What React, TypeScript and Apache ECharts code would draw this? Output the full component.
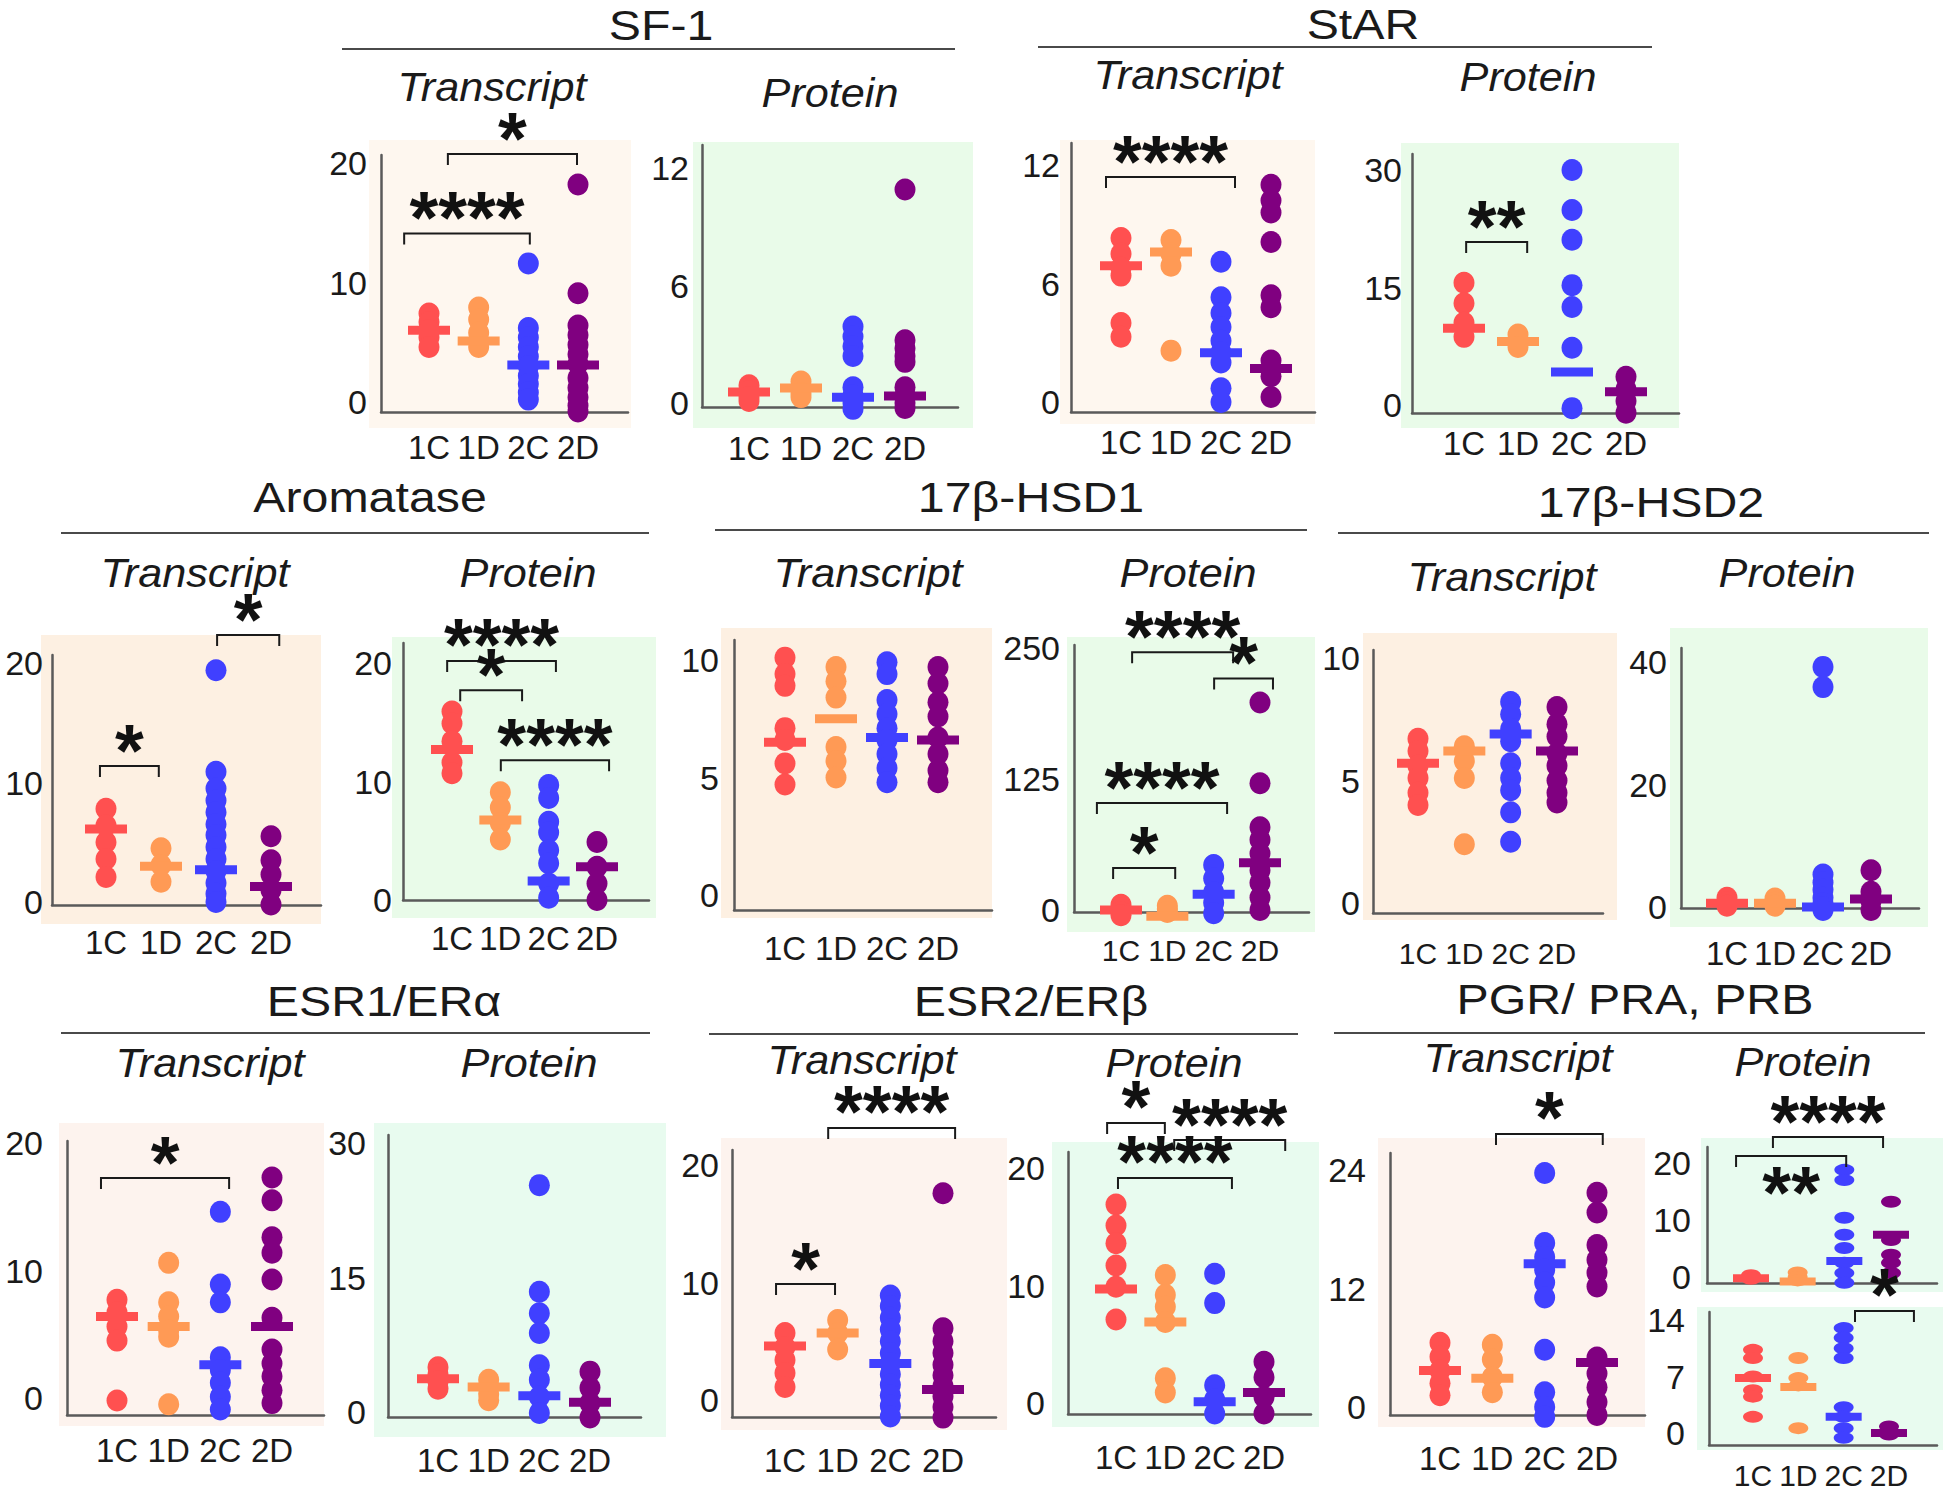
import React, { useEffect, useRef } from 'react';
import * as echarts from 'echarts';

// ---------------- DATA ----------------
const GROUPS = ['1C', '1D', '2C', '2D'];

// SF-1
const sf1TranscriptTicks = [0, 10, 20];
const sf1TranscriptValues = [
  [7.4, 6.7, 6.0, 5.4, 4.6],
  [7.9, 6.9, 5.8, 4.6],
  [11.6, 6.2, 5.4, 4.6, 3.8, 3.0, 2.2, 1.5, 0.8, 0.2],
  [18.2, 9.1, 6.4, 5.6, 4.8, 4.0, 3.2, 2.0, 1.2, 0.4, -0.3, -0.8],
];
const sf1TranscriptMedians = [6.0, 5.1, 3.1, 3.1];
const sf1TranscriptBrackets = [
  [0.5, 3.03, 14.1, '****'],
  [1.38, 3.98, 20.75, '*'],
];

const sf1ProteinTicks = [0, 6, 12];
const sf1ProteinValues = [
  [0.9, 0.6, 0.3, 0.1],
  [1.1, 0.8, 0.5, 0.3],
  [3.9, 3.4, 2.9, 2.4, 0.8, 0.4, 0.0, -0.3],
  [10.9, 3.2, 2.8, 2.4, 2.1, 0.8, 0.4, 0.0, -0.25],
];
const sf1ProteinMedians = [0.56, 0.76, 0.3, 0.36];
const sf1ProteinBrackets: any[] = [];

// StAR
const starTranscriptTicks = [0, 6, 12];
const starTranscriptValues = [
  [8.3, 7.5, 6.8, 6.4, 4.0, 3.3],
  [8.2, 7.5, 6.9, 2.6],
  [7.1, 5.3, 4.5, 3.8, 3.1, 2.5, 2.0, 0.7, 0.0],
  [11.0, 10.2, 9.6, 8.1, 5.4, 4.8, 2.1, 1.3, 0.25],
];
const starTranscriptMedians = [6.9, 7.6, 2.5, 1.7];
const starTranscriptBrackets = [[0.7, 3.28, 11.39, '****']];

const starProteinTicks = [0, 15, 30];
const starProteinValues = [
  [15.6, 13.0, 10.5, 8.7],
  [9.0, 7.4],
  [30.0, 24.9, 21.1, 15.3, 12.5, 7.3, -0.4],
  [3.6, 2.0, 0.5, -1.0],
];
const starProteinMedians = [9.8, 8.1, 4.2, 1.7];
const starProteinBrackets = [[1.04, 2.17, 20.8, '**']];

// Aromatase
const aroTranscriptTicks = [0, 10, 20];
const aroTranscriptValues = [
  [7.8, 6.4, 5.0, 3.6, 2.1],
  [4.5, 3.1, 1.7],
  [19.4, 10.9, 9.5, 8.5, 7.5, 6.5, 5.6, 4.6, 3.6, 2.6, 1.6, 0.7, 0.0],
  [5.5, 3.5, 2.3, 1.0, -0.2],
];
const aroTranscriptMedians = [6.1, 3.0, 2.7, 1.3];
const aroTranscriptBrackets = [
  [0.89, 1.96, 11.38, '*'],
  [3.02, 4.15, 22.34, '*'],
];

const aroProteinTicks = [0, 10, 20];
const aroProteinValues = [
  [15.9, 14.9, 13.4, 11.6, 10.7],
  [9.1, 7.8, 6.5, 5.1],
  [9.7, 8.6, 6.6, 5.7, 4.2, 3.1, 1.4, 0.2],
  [4.9, 2.8, 1.4, 0.0],
];
const aroProteinMedians = [12.7, 6.75, 1.6, 2.8];
const aroProteinBrackets = [
  [0.9, 3.15, 20.17, '****'],
  [1.17, 2.45, 17.7, '*'],
  [2.01, 4.25, 11.8, '****'],
];

// 17β-HSD1
const hsd1TranscriptTicks = [0, 5, 10];
const hsd1TranscriptValues = [
  [10.1, 9.4, 8.9, 7.1, 6.6, 5.6, 4.7],
  [9.7, 9.1, 8.4, 6.3, 5.7, 5.0],
  [9.9, 9.4, 8.3, 7.7, 7.1, 6.6, 6.0, 5.4, 4.8],
  [9.7, 9.0, 8.2, 7.6, 6.7, 6.0, 5.3, 4.8],
];
const hsd1TranscriptMedians = [6.5, 7.5, 6.7, 6.6];
const hsd1TranscriptBrackets: any[] = [];

const hsd1ProteinTicks = [0, 125, 250];
const hsd1ProteinValues = [
  [5, 2, -2, -5],
  [4, 1, -2],
  [43, 30, 17, 7, -3],
  [198, 121, 79, 67, 54, 38, 26, 12, 0],
];
const hsd1ProteinMedians = [0, -6, 15, 45];
const hsd1ProteinBrackets = [
  [1.24, 3.42, 246, '****'],
  [3.01, 4.28, 221, '*'],
  [0.48, 3.29, 102, '****'],
  [0.83, 2.17, 40, '*'],
];

// 17β-HSD2
const hsd2TranscriptTicks = [0, 5, 10];
const hsd2TranscriptValues = [
  [6.7, 6.2, 5.6, 5.1, 4.5, 4.0],
  [6.4, 5.8, 5.1, 2.4],
  [8.2, 7.7, 7.1, 6.6, 5.7, 5.1, 4.6, 3.7, 2.5],
  [8.0, 7.3, 6.8, 6.1, 5.6, 5.0, 4.5, 4.1],
];
const hsd2TranscriptMedians = [5.7, 6.2, 6.9, 6.2];
const hsd2TranscriptBrackets: any[] = [];

const hsd2ProteinTicks = [0, 20, 40];
const hsd2ProteinValues = [
  [1.5, 0.8, 0.2],
  [1.4, 0.7, 0.2],
  [39.2, 35.9, 5.3, 4.0, 2.8, 1.5, 0.6, 0.0, -0.5],
  [6.0, 2.5, 1.0, -0.5],
];
const hsd2ProteinMedians = [0.6, 0.6, 0.0, 1.3];
const hsd2ProteinBrackets: any[] = [];

// ESR1/ERα
const esr1TranscriptTicks = [0, 10, 20];
const esr1TranscriptValues = [
  [7.7, 6.7, 5.6, 4.5, -0.2],
  [10.6, 7.5, 6.4, 5.3, 4.8, -0.5],
  [14.6, 8.9, 7.5, 3.2, 2.2, 1.2, 0.1, -0.9],
  [17.3, 15.5, 12.6, 11.4, 9.3, 6.3, 3.8, 2.7, 1.7, 0.6, -0.4],
];
const esr1TranscriptMedians = [6.4, 5.6, 2.6, 5.6];
const esr1TranscriptBrackets = [[0.69, 3.17, 17.25, '*']];

const esr1ProteinTicks = [0, 15, 30];
const esr1ProteinValues = [
  [5.0, 4.2, 3.4, 2.6],
  [3.6, 2.8, 2.0, 1.3],
  [25.3, 13.4, 11.0, 8.8, 5.2, 3.6, 1.7, -0.1],
  [4.5, 2.7, 1.0, -0.6],
];
const esr1ProteinMedians = [3.7, 2.8, 1.8, 1.1];
const esr1ProteinBrackets: any[] = [];

// ESR2/ERβ
const esr2TranscriptTicks = [0, 10, 20];
const esr2TranscriptValues = [
  [5.7, 4.5, 3.4, 2.3, 1.1],
  [6.8, 5.7, 4.3],
  [8.9, 8.0, 7.0, 6.0, 5.0, 4.0, 3.1, 2.2, 1.3, 0.4, -0.5, -1.4],
  [17.6, 6.1, 5.0, 4.0, 3.0, 2.1, 1.2, 0.3, -0.6, -1.5],
];
const esr2TranscriptMedians = [4.6, 5.7, 3.1, 0.9];
const esr2TranscriptBrackets = [
  [0.83, 1.95, 9.87, '*'],
  [1.82, 4.23, 23.15, '****'],
];

const esr2ProteinTicks = [0, 10, 20];
const esr2ProteinValues = [
  [16.9, 15.1, 13.6, 11.7, 9.9, 7.1],
  [10.9, 9.2, 8.2, 6.9, 2.1, 0.9],
  [11.0, 8.5, 1.5, 0.3, -0.9],
  [3.5, 2.2, 0.5, -0.9],
];
const esr2ProteinMedians = [9.7, 6.9, 0.1, 0.9];
const esr2ProteinBrackets = [
  [0.82, 1.99, 23.83, '*'],
  [2.18, 4.43, 22.38, '****'],
  [1.04, 3.35, 19.15, '****'],
];

// PGR / PRA, PRB
const pgrTranscriptTicks = [0, 12, 24];
const pgrTranscriptValues = [
  [6.5, 5.1, 3.7, 2.4, 1.2],
  [6.3, 4.8, 3.0, 1.5],
  [23.7, 16.6, 15.2, 13.9, 12.6, 11.1, 5.8, 1.5, 0.0, -1.0],
  [21.7, 19.7, 16.4, 14.9, 13.6, 12.2, 5.0, 3.4, 2.0, 0.5, -0.8],
];
const pgrTranscriptMedians = [3.7, 2.9, 14.5, 4.5];
const pgrTranscriptBrackets = [[2.07, 4.11, 27.65, '*']];

const praProteinTicks = [0, 10, 20];
const praProteinValues = [
  [0.3, -0.3],
  [0.8, 0.0, -0.6],
  [18.8, 17.0, 10.4, 7.4, 5.1, 2.5, 0.7, -1.0],
  [13.2, 6.5, 3.9, 2.5, 0.7],
];
const praProteinMedians = [-0.2, -0.8, 2.8, 7.4];
const praProteinBrackets = [
  [1.47, 3.83, 24.56, '****'],
  [0.68, 3.04, 21.23, '**', 'below'],
];

const prbProteinTicks = [0, 7, 14];
const prbProteinValues = [
  [10.3, 9.3, 7.0, 5.3, 4.5, 2.0],
  [9.3, 6.8, 5.9, 0.6],
  [13.0, 11.8, 10.5, 9.3, 3.2, 2.0, 0.6, -0.6],
  [0.8, 0.2, -0.2],
];
const prbProteinMedians = [6.8, 5.7, 2.0, 0.0];
const prbProteinBrackets = [[3.25, 4.55, 15.12, '*']];

// ---------------- STYLE / LAYOUT ----------------
const W = 1946;
const H = 1497;
const FONT = '"Liberation Sans", Arial, Helvetica, sans-serif';
const GROUP_COLORS = ['#ff5050', '#ff9a55', '#4040ff', '#800080'];
const AXIS_COLOR = '#5a5a5a';
const TEXT_COLOR = '#1a1a1a';
const PEACH_A = '#fef7ef';
const PEACH_B = '#fdf0e2';
const PEACH_C = '#fdf3ee';
const GREEN_A = '#e9fbe9';
const GREEN_B = '#e8fbef';
const DOT = [21, 22];
const BAR = [42, 9];
const DOT_SMALL = [20, 12];
const BAR_SMALL = [36, 8];
const LEG = 11;
const TICK_FONT = 34;
const CAT_FONT = 33;
const CAT_FONT_DENSE = 30;

type Panel = {
  values: number[][];
  medians: number[];
  brackets: any[];
  ticks: number[];
  grid: number[]; // l, t, r, b
  bg: number[]; // x1, y1, x2, y2
  cats: number[]; // pixel centre of 1st and 4th group
  zeroPx: number;
  topPx: number;
  ylm: number;
  xlm: number;
  showX: boolean;
  bgColor: string;
  dot: number[];
  bar: number[];
};

const PANELS: Panel[] = [
  { values: sf1TranscriptValues, medians: sf1TranscriptMedians, brackets: sf1TranscriptBrackets, ticks: sf1TranscriptTicks,
    grid: [381, 155, 628, 412], bg: [369, 140, 631, 428], cats: [429, 578], zeroPx: 402, topPx: 163, ylm: 14, xlm: 19, showX: true, bgColor: PEACH_A, dot: DOT, bar: BAR },
  { values: sf1ProteinValues, medians: sf1ProteinMedians, brackets: sf1ProteinBrackets, ticks: sf1ProteinTicks,
    grid: [702, 145, 958, 407], bg: [693, 142, 973, 428], cats: [749, 905], zeroPx: 403, topPx: 168, ylm: 13, xlm: 25, showX: true, bgColor: GREEN_A, dot: DOT, bar: BAR },
  { values: starTranscriptValues, medians: starTranscriptMedians, brackets: starTranscriptBrackets, ticks: starTranscriptTicks,
    grid: [1071, 143, 1315, 412], bg: [1060, 140, 1315, 424], cats: [1121, 1271], zeroPx: 402, topPx: 165, ylm: 11, xlm: 14, showX: true, bgColor: PEACH_A, dot: DOT, bar: BAR },
  { values: starProteinValues, medians: starProteinMedians, brackets: starProteinBrackets, ticks: starProteinTicks,
    grid: [1412, 154, 1679, 413], bg: [1401, 143, 1679, 428], cats: [1464, 1626], zeroPx: 405, topPx: 170, ylm: 10, xlm: 14, showX: true, bgColor: GREEN_A, dot: DOT, bar: BAR },
  { values: aroTranscriptValues, medians: aroTranscriptMedians, brackets: aroTranscriptBrackets, ticks: aroTranscriptTicks,
    grid: [52, 655, 321, 905], bg: [41, 635, 321, 924], cats: [106, 271], zeroPx: 902, topPx: 663, ylm: 9, xlm: 21, showX: true, bgColor: PEACH_B, dot: DOT, bar: BAR },
  { values: aroProteinValues, medians: aroProteinMedians, brackets: aroProteinBrackets, ticks: aroProteinTicks,
    grid: [403, 643, 649, 900], bg: [392, 637, 656, 918], cats: [452, 597], zeroPx: 900, topPx: 663, ylm: 11, xlm: 22, showX: true, bgColor: GREEN_A, dot: DOT, bar: BAR },
  { values: hsd1TranscriptValues, medians: hsd1TranscriptMedians, brackets: hsd1TranscriptBrackets, ticks: hsd1TranscriptTicks,
    grid: [734, 640, 992, 910], bg: [721, 628, 992, 918], cats: [785, 938], zeroPx: 895, topPx: 660, ylm: 15, xlm: 22, showX: true, bgColor: PEACH_B, dot: DOT, bar: BAR },
  { values: hsd1ProteinValues, medians: hsd1ProteinMedians, brackets: hsd1ProteinBrackets, ticks: hsd1ProteinTicks,
    grid: [1074, 645, 1309, 912], bg: [1067, 637, 1315, 932], cats: [1121, 1260], zeroPx: 910, topPx: 648, ylm: 14, xlm: 23, showX: true, bgColor: GREEN_A, dot: DOT, bar: BAR },
  { values: hsd2TranscriptValues, medians: hsd2TranscriptMedians, brackets: hsd2TranscriptBrackets, ticks: hsd2TranscriptTicks,
    grid: [1373, 650, 1603, 913], bg: [1363, 633, 1617, 920], cats: [1418, 1557], zeroPx: 903, topPx: 658, ylm: 13, xlm: 25, showX: true, bgColor: PEACH_B, dot: DOT, bar: BAR },
  { values: hsd2ProteinValues, medians: hsd2ProteinMedians, brackets: hsd2ProteinBrackets, ticks: hsd2ProteinTicks,
    grid: [1681, 648, 1919, 908], bg: [1670, 628, 1928, 927], cats: [1727, 1871], zeroPx: 907, topPx: 662, ylm: 14, xlm: 29, showX: true, bgColor: GREEN_A, dot: DOT, bar: BAR },
  { values: esr1TranscriptValues, medians: esr1TranscriptMedians, brackets: esr1TranscriptBrackets, ticks: esr1TranscriptTicks,
    grid: [67, 1141, 324, 1415], bg: [59, 1123, 324, 1426], cats: [117, 272], zeroPx: 1398, topPx: 1143, ylm: 24, xlm: 19, showX: true, bgColor: PEACH_C, dot: DOT, bar: BAR },
  { values: esr1ProteinValues, medians: esr1ProteinMedians, brackets: esr1ProteinBrackets, ticks: esr1ProteinTicks,
    grid: [388, 1135, 641, 1417], bg: [374, 1123, 666, 1437], cats: [438, 590], zeroPx: 1412, topPx: 1143, ylm: 22, xlm: 27, showX: true, bgColor: GREEN_B, dot: DOT, bar: BAR },
  { values: esr2TranscriptValues, medians: esr2TranscriptMedians, brackets: esr2TranscriptBrackets, ticks: esr2TranscriptTicks,
    grid: [732, 1150, 996, 1417], bg: [721, 1138, 1007, 1430], cats: [785, 943], zeroPx: 1400, topPx: 1165, ylm: 13, xlm: 27, showX: true, bgColor: PEACH_C, dot: DOT, bar: BAR },
  { values: esr2ProteinValues, medians: esr2ProteinMedians, brackets: esr2ProteinBrackets, ticks: esr2ProteinTicks,
    grid: [1068, 1152, 1311, 1414], bg: [1052, 1142, 1319, 1427], cats: [1116, 1264], zeroPx: 1403, topPx: 1168, ylm: 23, xlm: 27, showX: true, bgColor: GREEN_B, dot: DOT, bar: BAR },
  { values: pgrTranscriptValues, medians: pgrTranscriptMedians, brackets: pgrTranscriptBrackets, ticks: pgrTranscriptTicks,
    grid: [1390, 1153, 1645, 1415], bg: [1378, 1138, 1645, 1427], cats: [1440, 1597], zeroPx: 1407, topPx: 1170, ylm: 24, xlm: 27, showX: true, bgColor: PEACH_C, dot: DOT, bar: BAR },
  { values: praProteinValues, medians: praProteinMedians, brackets: praProteinBrackets, ticks: praProteinTicks,
    grid: [1707, 1147, 1937, 1283], bg: [1701, 1138, 1943, 1292], cats: [1751, 1891], zeroPx: 1277, topPx: 1163, ylm: 16, xlm: 20, showX: false, bgColor: GREEN_B, dot: DOT_SMALL, bar: BAR_SMALL },
  { values: prbProteinValues, medians: prbProteinMedians, brackets: prbProteinBrackets, ticks: prbProteinTicks,
    grid: [1709, 1312, 1937, 1445], bg: [1697, 1307, 1943, 1450], cats: [1753, 1889], zeroPx: 1433, topPx: 1320, ylm: 24, xlm: 15, showX: true, bgColor: GREEN_B, dot: DOT_SMALL, bar: BAR_SMALL },
];

// gene titles: text, centre x, centre y, underline y, underline x1, x2
const GENE_TITLES: [string, number, number, number, number, number][] = [
  ['SF-1', 661, 26, 49, 342, 955],
  ['StAR', 1363, 25, 47, 1038, 1652],
  ['Aromatase', 370, 498, 533, 61, 649],
  ['17β-HSD1', 1031, 498, 530, 715, 1307],
  ['17β-HSD2', 1651, 503, 533, 1338, 1929],
  ['ESR1/ERα', 384, 1002, 1033, 61, 650],
  ['ESR2/ERβ', 1031, 1002, 1034, 709, 1298],
  ['PGR/ PRA, PRB', 1635, 1000, 1033, 1334, 1925],
];

const SUB_TITLES: [string, number, number][] = [
  ['Transcript', 492, 87], ['Protein', 830, 93], ['Transcript', 1188, 75], ['Protein', 1528, 77],
  ['Transcript', 195, 573], ['Protein', 528, 573], ['Transcript', 868, 573], ['Protein', 1188, 573],
  ['Transcript', 1502, 577], ['Protein', 1787, 573],
  ['Transcript', 210, 1063], ['Protein', 529, 1063], ['Transcript', 862, 1060], ['Protein', 1174, 1063],
  ['Transcript', 1518, 1058], ['Protein', 1803, 1062],
];

function textStyle(text: string, size: number, extra: any = {}) {
  return {
    text,
    fill: TEXT_COLOR,
    fontSize: size,
    fontFamily: FONT,
    align: 'center',
    verticalAlign: 'middle',
    textAlign: 'center',
    textVerticalAlign: 'middle',
    ...extra,
  };
}

function buildOption() {
  const grid: any[] = [];
  const xAxis: any[] = [];
  const yAxis: any[] = [];
  const series: any[] = [];
  const elements: any[] = [];

  PANELS.forEach((p, i) => {
    const [l, t, r, b] = p.grid;
    const step = (p.cats[1] - p.cats[0]) / 3;
    const xmin = 1 - (p.cats[0] - l) / step;
    const xmax = 4 + (r - p.cats[1]) / step;
    const topVal = p.ticks[p.ticks.length - 1];
    const ppu = (p.zeroPx - p.topPx) / topVal;
    const ymin = -(b - p.zeroPx) / ppu;
    const ymax = topVal + (p.topPx - t) / ppu;

    grid.push({ left: l, top: t, width: r - l, height: b - t, containLabel: false, outerBoundsMode: 'none' });
    const axisLine = { show: true, onZero: false, lineStyle: { color: AXIS_COLOR, width: 2.5 } };
    xAxis.push({
      type: 'value', gridIndex: i, min: xmin, max: xmax,
      axisLine, axisTick: { show: false }, splitLine: { show: false },
      axisLabel: {
        show: p.showX, customValues: [1, 2, 3, 4], margin: p.xlm,
        formatter: (v: number) => GROUPS[Math.round(v) - 1] || '',
        fontSize: step < 47.5 ? CAT_FONT_DENSE : CAT_FONT, fontFamily: FONT, color: TEXT_COLOR,
      },
    });
    yAxis.push({
      type: 'value', gridIndex: i, min: ymin, max: ymax,
      axisLine, axisTick: { show: false }, splitLine: { show: false },
      axisLabel: {
        customValues: p.ticks, margin: p.ylm,
        formatter: (v: number) => String(Math.round(v)),
        fontSize: TICK_FONT, fontFamily: FONT, color: TEXT_COLOR,
      },
    });

    elements.push({
      type: 'rect', z: -10, silent: true,
      shape: { x: p.bg[0], y: p.bg[1], width: p.bg[2] - p.bg[0], height: p.bg[3] - p.bg[1] },
      style: { fill: p.bgColor },
    });

    p.values.forEach((vals, g) => {
      series.push({
        type: 'scatter', xAxisIndex: i, yAxisIndex: i, clip: false, z: 3,
        symbol: 'circle', symbolSize: p.dot,
        itemStyle: { color: GROUP_COLORS[g], opacity: 1 },
        data: vals.map((v) => [g + 1, v]),
        silent: true,
      });
    });
    series.push({
      type: 'scatter', xAxisIndex: i, yAxisIndex: i, clip: false, z: 4,
      symbol: 'rect', symbolSize: p.bar,
      data: p.medians.map((m, g) => ({ value: [g + 1, m], itemStyle: { color: GROUP_COLORS[g], opacity: 1 } })),
      silent: true,
    });
    if (p.brackets.length) {
      const br = p.brackets;
      series.push({
        type: 'custom', xAxisIndex: i, yAxisIndex: i, clip: false, z: 5, silent: true,
        encode: { x: [0, 1], y: 2 },
        data: br.map((d: any[]) => [d[0], d[1], d[2]]),
        renderItem: (params: any, api: any) => {
          const d = br[params.dataIndex];
          const a = api.coord([api.value(0), api.value(2)]);
          const c = api.coord([api.value(1), api.value(2)]);
          const below = d[4] === 'below';
          return {
            type: 'group',
            children: [
              {
                type: 'polyline',
                shape: { points: [[a[0], a[1] + LEG], [a[0], a[1]], [c[0], c[1]], [c[0], c[1] + LEG]] },
                style: { stroke: '#1a1a1a', lineWidth: 2, fill: null },
              },
              {
                type: 'text',
                x: (a[0] + c[0]) / 2,
                y: below ? a[1] + 37 : a[1] - 16,
                style: textStyle(d[3], 74, { fontWeight: 'bold', fill: '#111' }),
              },
            ],
          };
        },
      });
    }
  });

  GENE_TITLES.forEach(([txt, cx, cy, ly, x1, x2]) => {
    elements.push({ type: 'text', x: cx, y: cy, scaleX: 1.15, silent: true, style: textStyle(txt, 42) });
    elements.push({
      type: 'line', silent: true,
      shape: { x1, y1: ly, x2, y2: ly },
      style: { stroke: '#4a4a4a', lineWidth: 2 },
    });
  });
  SUB_TITLES.forEach(([txt, cx, cy]) => {
    elements.push({ type: 'text', x: cx, y: cy, scaleX: 1.08, silent: true, style: textStyle(txt, 40, { fontStyle: 'italic' }) });
  });

  return {
    animation: false,
    backgroundColor: '#ffffff',
    grid, xAxis, yAxis, series,
    graphic: { elements },
  };
}

export default function App() {
  const ref = useRef<HTMLDivElement>(null);
  useEffect(() => {
    if (!ref.current) return;
    const chart = echarts.init(ref.current, null, { renderer: 'svg', width: W, height: H });
    chart.setOption(buildOption() as any);
    return () => chart.dispose();
  }, []);
  return (
    <div
      ref={ref}
      style={{ position: 'absolute', left: 0, top: 0, width: W, height: H, background: '#fff' }}
    />
  );
}
